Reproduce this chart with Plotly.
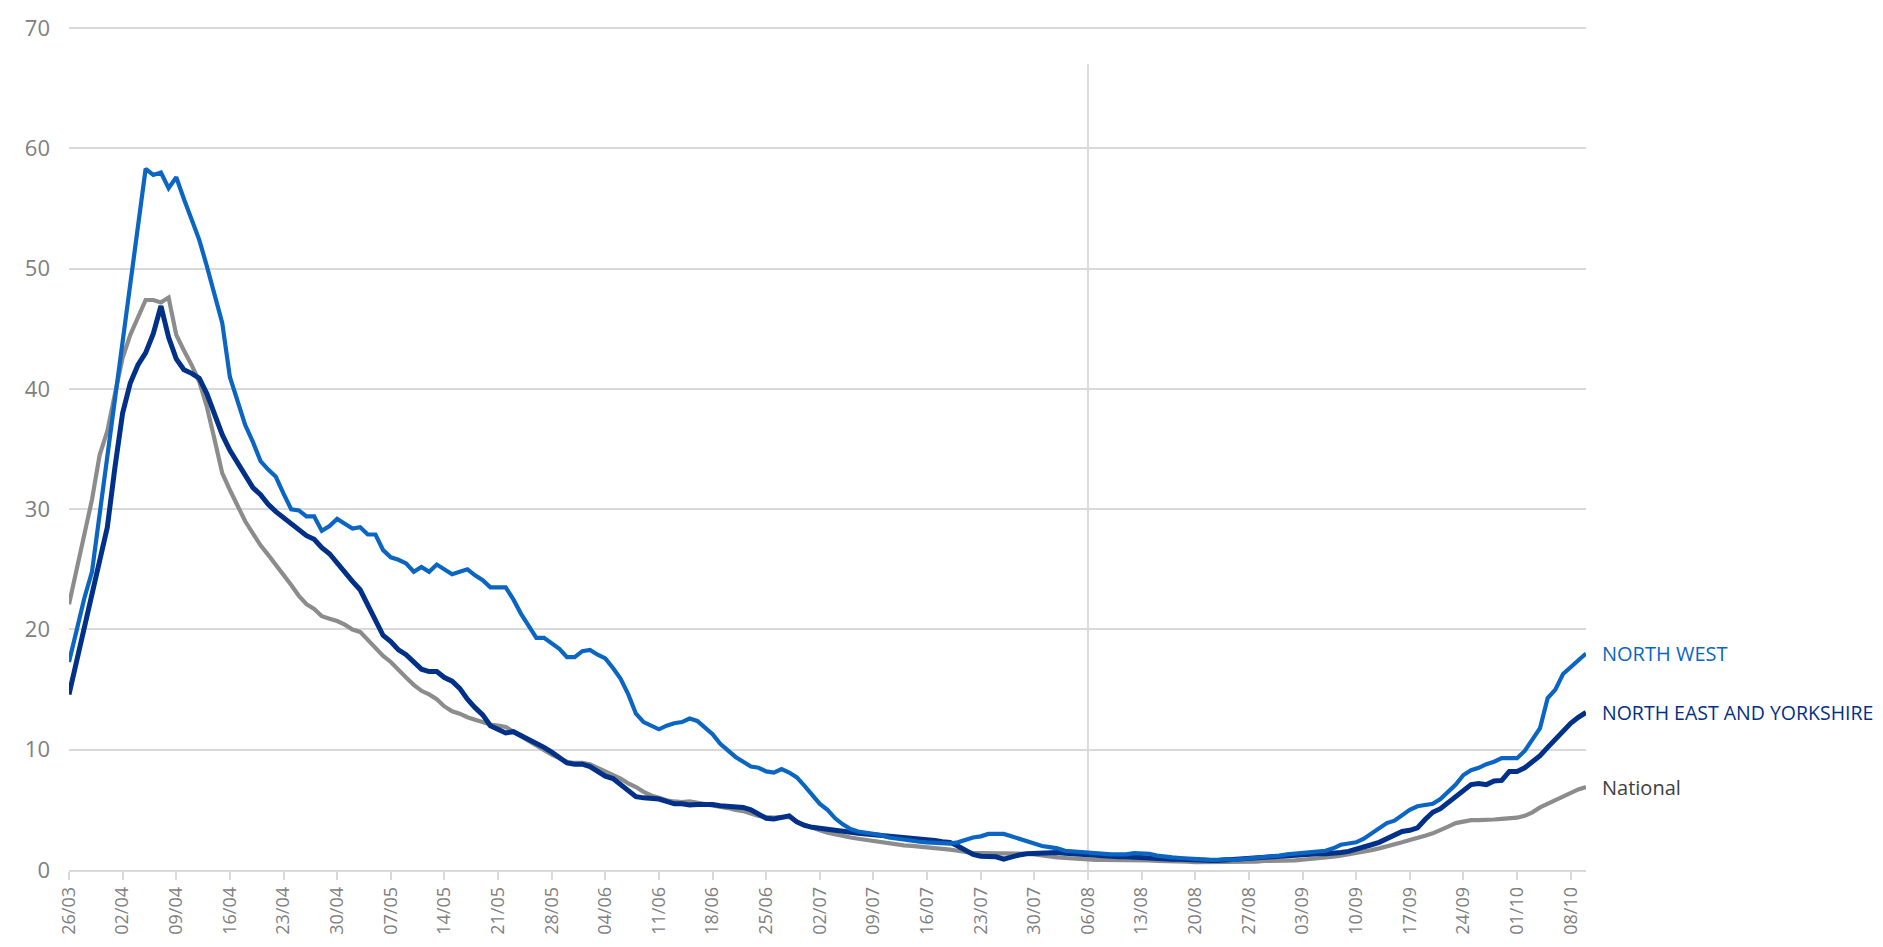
import pandas as pd
import plotly.graph_objects as go

start_date = "2020-03-26"
dates = pd.date_range(start_date, periods=199, freq="D")

north_west = [
    17.3, 20.0, 22.6, 24.8, 29.5, 34.5, 39.0, 44.0, 48.8, 53.5,
    58.3, 57.8, 58.0, 56.7, 57.6, 55.8, 54.0, 52.4, 50.2, 48.0,
    45.5, 41.0, 39.0, 37.0, 35.6, 34.0, 33.3, 32.7, 31.3, 30.0,
    29.9, 29.4, 29.4, 28.2, 28.6, 29.2, 28.8, 28.4, 28.5, 27.9,
    27.9, 26.6, 26.0, 25.8, 25.5, 24.8, 25.2, 24.8, 25.4, 25.0,
    24.6, 24.8, 25.0, 24.5, 24.1, 23.5, 23.5, 23.5, 22.5, 21.3,
    20.3, 19.3, 19.3, 18.9, 18.4, 17.7, 17.7, 18.2, 18.3, 17.9,
    17.6, 16.8, 15.9, 14.6, 13.0, 12.3, 12.0, 11.7, 12.0, 12.2,
    12.3, 12.6, 12.4, 11.9, 11.3, 10.5, 9.9, 9.4, 9.0, 8.6,
    8.5, 8.2, 8.1, 8.4, 8.1, 7.7, 7.0, 6.2, 5.5, 5.0,
    4.3, 3.8, 3.4, 3.2, 3.1, 3.0, 2.9, 2.7, 2.6, 2.5,
    2.4, 2.35, 2.3, 2.25, 2.2, 2.2, 2.3, 2.5, 2.7, 2.8,
    3.0, 3.0, 3.0, 2.8, 2.6, 2.4, 2.2, 2.0, 1.9, 1.8,
    1.6, 1.55, 1.5, 1.4, 1.35, 1.3, 1.3, 1.3, 1.3, 1.4,
    1.4, 1.35, 1.2, 1.1, 1.05, 1.0, 0.95, 0.9, 0.9, 0.85,
    0.85, 0.9, 0.85, 0.9, 0.95, 1.0, 1.1, 1.15, 1.2, 1.3,
    1.35, 1.4, 1.45, 1.5, 1.6, 1.8, 2.1, 2.2, 2.3, 2.6,
    3.0, 3.5, 3.9, 4.1, 4.6, 5.0, 5.3, 5.4, 5.5, 5.9,
    6.5, 7.1, 7.9, 8.3, 8.5, 8.8, 9.0, 9.3, 9.3, 9.3,
    9.9, 10.9, 11.8, 14.3, 15.0, 16.3, 16.9, 17.5, 18.0,
]

north_east_yorkshire = [
    14.6, 17.3, 20.0, 22.8, 25.6, 28.5, 33.5, 38.0, 40.5, 42.0,
    43.0, 44.6, 46.9, 44.3, 42.5, 41.6, 41.3, 40.9, 39.6, 38.0,
    36.2, 34.9, 33.9, 32.8, 31.8, 31.2, 30.4, 29.8, 29.3, 28.7,
    28.2, 27.8, 27.5, 26.8, 26.3, 25.5, 24.7, 24.0, 23.3, 22.0,
    20.7, 19.5, 19.0, 18.3, 17.9, 17.3, 16.7, 16.5, 16.5, 16.0,
    15.7, 15.1, 14.2, 13.5, 12.9, 12.0, 11.7, 11.4, 11.5, 11.2,
    10.9, 10.6, 10.2, 9.8, 9.4, 8.9, 8.8, 8.8, 8.6, 8.2,
    7.8, 7.6, 7.1, 6.5, 6.1, 6.0, 6.0, 5.9, 5.7, 5.5,
    5.5, 5.4, 5.45, 5.5, 5.45, 5.35, 5.3, 5.25, 5.2, 5.0,
    4.6, 4.3, 4.25, 4.35, 4.5, 4.0, 3.7, 3.55, 3.45, 3.35,
    3.25, 3.2, 3.1, 3.05, 3.0, 2.95, 2.9, 2.85, 2.8, 2.75,
    2.7, 2.6, 2.5, 2.45, 2.35, 2.3, 2.0, 1.6, 1.3, 1.15,
    1.1, 1.1, 0.9, 1.1, 1.25, 1.35, 1.4, 1.45, 1.5, 1.45,
    1.4, 1.35, 1.25, 1.2, 1.15, 1.1, 1.1, 1.1, 1.1, 1.05,
    1.05, 1.05, 1.0, 0.95, 0.9, 0.9, 0.85, 0.8, 0.8, 0.8,
    0.8, 0.85, 0.85, 0.9, 0.9, 0.95, 1.0, 1.05, 1.1, 1.15,
    1.2, 1.25, 1.3, 1.35, 1.35, 1.35, 1.45, 1.55, 1.7, 1.9,
    2.1, 2.3, 2.6, 2.9, 3.2, 3.3, 3.5, 4.2, 4.8, 5.1,
    5.6, 6.1, 6.7, 7.1, 7.2, 7.1, 7.4, 7.45, 8.2, 8.2,
    8.5, 9.0, 9.5, 10.2, 10.9, 11.6, 12.2, 12.7, 13.1,
]

national = [
    22.1, 25.0, 27.8, 30.8, 34.5, 36.5, 39.6, 42.6, 44.5, 46.0,
    47.4, 47.4, 47.2, 47.6, 44.5, 43.2, 42.0, 40.6, 38.5, 35.8,
    33.0, 31.6, 30.2, 29.0, 28.0, 27.0, 26.2, 25.4, 24.5, 23.7,
    22.8, 22.1, 21.7, 21.1, 20.9, 20.7, 20.4, 20.0, 19.8, 19.1,
    18.4, 17.8, 17.3, 16.6, 16.0, 15.4, 14.9, 14.6, 14.2, 13.6,
    13.2, 13.0, 12.7, 12.5, 12.3, 12.1, 12.0, 11.9, 11.5, 11.1,
    10.7, 10.4, 10.0, 9.6, 9.3, 9.0, 8.9, 8.9, 8.8, 8.5,
    8.2, 7.9, 7.6, 7.2, 6.9, 6.5, 6.2, 6.0, 5.8, 5.7,
    5.65, 5.7, 5.6, 5.5, 5.4, 5.3, 5.15, 5.0, 4.9, 4.7,
    4.5, 4.4, 4.35, 4.4, 4.4, 4.0, 3.75, 3.5, 3.3, 3.1,
    2.95, 2.8, 2.7, 2.6, 2.5, 2.4, 2.3, 2.2, 2.15, 2.05,
    2.0, 1.95, 1.85, 1.8, 1.75, 1.7, 1.6, 1.5, 1.4, 1.4,
    1.4, 1.4, 1.4, 1.4, 1.4, 1.35, 1.3, 1.2, 1.1, 1.05,
    1.0, 0.95, 0.9, 0.85, 0.85, 0.85, 0.85, 0.85, 0.8, 0.8,
    0.8, 0.8, 0.75, 0.75, 0.7, 0.7, 0.7, 0.65, 0.65, 0.65,
    0.65, 0.65, 0.7, 0.7, 0.7, 0.7, 0.75, 0.75, 0.8, 0.8,
    0.8, 0.85, 0.9, 0.95, 1.0, 1.1, 1.2, 1.3, 1.45, 1.55,
    1.65, 1.8, 1.95, 2.1, 2.3, 2.5, 2.65, 2.85, 3.05, 3.3,
    3.6, 3.9, 4.05, 4.15, 4.15, 4.15, 4.2, 4.25, 4.3, 4.35,
    4.5, 4.8, 5.2, 5.5, 5.85, 6.1, 6.4, 6.7, 6.9,
]

tick_labels = [
    "26/03", "02/04", "09/04", "16/04", "23/04", "30/04", "07/05", "14/05",
    "21/05", "28/05", "04/06", "11/06", "18/06", "25/06", "02/07", "09/07",
    "16/07", "23/07", "30/07", "06/08", "13/08", "20/08", "27/08", "03/09",
    "10/09", "17/09", "24/09", "01/10", "08/10",
]
tick_dates = pd.date_range(start_date, periods=len(tick_labels), freq="7D")

divider_date = "2020-08-06"
divider_top = 67

series_names = ["National", "NORTH EAST AND YORKSHIRE", "NORTH WEST"]
series_values = [national, north_east_yorkshire, north_west]
series_colors = ["#8c8c8c", "#003087", "#0a66c2"]
label_colors = ["#404040", "#003087", "#0a66c2"]
label_sizes = [20, 19.5, 20]
series_widths = [4.2, 5.0, 4.2]

fig = go.Figure()
for name, vals, col, w in zip(series_names, series_values, series_colors, series_widths):
    fig.add_trace(go.Scatter(
        x=dates, y=vals, mode="lines", name=name,
        line=dict(color=col, width=w, shape="linear"),
        showlegend=False,
    ))

fig.add_shape(type="line", xref="x", yref="y",
              x0=divider_date, x1=divider_date, y0=0, y1=divider_top,
              line=dict(color="#d0d0d0", width=1.5), layer="below")

for name, vals, col, sz in zip(series_names, series_values, label_colors, label_sizes):
    fig.add_annotation(x=dates[-1], y=vals[-1], xref="x", yref="y",
                       text=name, showarrow=False, xanchor="left",
                       yanchor="middle", xshift=14,
                       font=dict(family="Open Sans", size=sz, color=col))

fig.update_layout(
    width=1883, height=947,
    margin=dict(l=69, r=297, t=19, b=77),
    paper_bgcolor="white", plot_bgcolor="white",
    font=dict(family="Open Sans", color="#808080"),
)
fig.update_xaxes(
    range=[dates[0], dates[-1]],
    tickvals=tick_dates, ticktext=tick_labels,
    tickangle=-90, tickfont=dict(size=18, color="#808080"),
    showgrid=False, showline=True, linecolor="#d9d9d9", linewidth=1.5,
    ticks="outside", tickcolor="#d9d9d9", ticklen=8, tickwidth=1.5,
    zeroline=False,
)
fig.update_yaxes(
    range=[0, 70.1], dtick=10, tick0=0,
    tickfont=dict(size=22, color="#808080"),
    showgrid=True, gridcolor="#d9d9d9", gridwidth=1.5,
    zeroline=False, showline=False, ticks="",
    ticklabelstandoff=18, ticklabeloverflow="allow",
)

fig.write_html(
    "out.html",
    config={"displayModeBar": False},
    post_script="document.body.style.margin='0';document.body.style.overflow='hidden';",
)
